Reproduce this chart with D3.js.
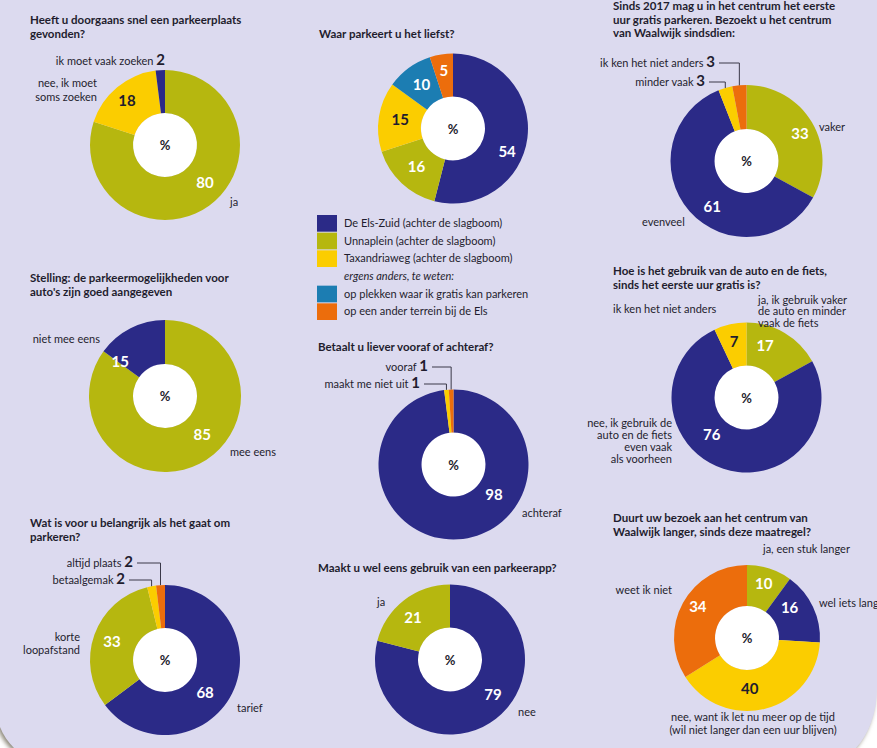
<!DOCTYPE html>
<html>
<head>
<meta charset="utf-8">
<script src="https://cdn.jsdelivr.net/npm/d3@7"></script>
<style>
  body { margin: 0; background: #ffffff; }
  svg { display: block; }
  text { font-family: Lato, "Open Sans", sans-serif; fill: #1f1d2e; }
</style>
</head>
<body>
<svg id="chart" width="877" height="748"></svg>
<script>
// ---- survey results (percentages) ----
const foundCats = ["ja", "nee, ik moet\nsoms zoeken", "ik moet vaak zoeken"];
const foundVals = [80, 18, 2];

const favouriteCats = ["De Els-Zuid (achter de slagboom)", "Unnaplein (achter de slagboom)",
  "Taxandriaweg (achter de slagboom)", "op plekken waar ik gratis kan parkeren",
  "op een ander terrein bij de Els"];
const favouriteVals = [54, 16, 15, 10, 5];

const visitCats = ["vaker", "evenveel", "minder vaak", "ik ken het niet anders"];
const visitVals = [33, 61, 3, 3];

const signageCats = ["mee eens", "niet mee eens"];
const signageVals = [85, 15];

const payCats = ["achteraf", "maakt me niet uit", "vooraf"];
const payVals = [98, 1, 1];

const modeCats = ["ja, ik gebruik vaker\nde auto en minder\nvaak de fiets",
  "nee, ik gebruik de\nauto en de fiets\neven vaak\nals voorheen", "ik ken het niet anders"];
const modeVals = [17, 76, 7];

const priorityCats = ["tarief", "korte\nloopafstand", "betaalgemak", "altijd plaats"];
const priorityVals = [68, 33, 2, 2];

const appCats = ["nee", "ja"];
const appVals = [79, 21];

const durationCats = ["ja, een stuk langer", "wel iets langer",
  "nee, want ik let nu meer op de tijd\n(wil niet langer dan een uur blijven)", "weet ik niet"];
const durationVals = [10, 16, 40, 34];

const legendNote = "ergens anders, te weten:";

// ---- styling ----
const palette = {
  navy: "#2b2a87", olive: "#b6b70f", yellow: "#fbcd00",
  blue: "#1c7db2", orange: "#ec6d0c"
};
const DARK = "#1f1d2e";

const svg = d3.select("#chart");

// page panel with curled bottom corners
const defs = svg.append("defs");
defs.append("filter").attr("id", "soft").attr("x", "-5%").attr("y", "-5%")
  .attr("width", "110%").attr("height", "110%")
  .append("feGaussianBlur").attr("stdDeviation", 2);
const panel = "M0,0 H877 V688 C877,712 869,734 856,748 H14 C8,742 3,735 0,727 Z";
svg.append("path").attr("d", panel).attr("fill", "#8d897c")
  .attr("transform", "translate(-2,2)").attr("filter", "url(#soft)");
svg.append("path").attr("d", panel).attr("fill", "#dcdaef");

const pie = d3.pie().sort(null).value(d => d).startAngle(0).endAngle(2 * Math.PI);
const rad = a => a * Math.PI / 180;

function multiline(sel, str, lh) {
  str.split("\n").forEach((line, i) => {
    sel.append("tspan").attr("x", sel.attr("x")).attr("dy", i === 0 ? 0 : lh).text(line);
  });
}

function title(x, y, lines) {
  const t = svg.append("text").attr("x", x).attr("y", y)
    .attr("font-size", 11.5).attr("font-weight", 700);
  lines.forEach((l, i) => t.append("tspan").attr("x", x).attr("dy", i ? 13.5 : 0).text(l));
}

function donut(cfg) {
  const g = svg.append("g").attr("transform", `translate(${cfg.cx},${cfg.cy})`);
  const r0 = cfg.r0 || 32, r1 = cfg.r1 || 75;
  const arc = d3.arc().innerRadius(r0).outerRadius(r1);
  const arcs = pie(cfg.values);

  g.append("circle").attr("r", r0).attr("fill", "#ffffff");
  g.selectAll("path.slice").data(arcs).join("path")
    .attr("class", "slice").attr("d", arc)
    .attr("fill", (d, i) => palette[cfg.slices[i].color]);
  g.append("text").attr("text-anchor", "middle").attr("dy", 5)
    .attr("font-size", 13).attr("font-weight", 700).text("%");

  arcs.forEach((a, i) => {
    const s = cfg.slices[i];
    const cat = cfg.cats[i];
    const mid = (a.startAngle + a.endAngle) / 2;

    // value inside the ring
    if (s.num) {
      const ang = s.num.a != null ? rad(s.num.a) : mid;
      const rr = s.num.r != null ? s.num.r : (r0 + r1) / 2;
      g.append("text").attr("text-anchor", "middle")
        .attr("x", rr * Math.sin(ang)).attr("y", -rr * Math.cos(ang)).attr("dy", 5)
        .attr("font-size", 15).attr("font-weight", 700)
        .style("fill", s.num.dark ? DARK : "#ffffff")
        .text(a.data);
    }
    // category caption
    if (s.cat) {
      const t = g.append("text").attr("x", s.cat.dx).attr("y", s.cat.dy)
        .attr("text-anchor", s.cat.anchor || "start").attr("font-size", 11);
      multiline(t, cat, s.cat.lh || 12.5);
    }
    // caption plus value with a leader line for thin slices
    if (s.lead) {
      const t = g.append("text").attr("x", s.lead.dx).attr("y", s.lead.dy)
        .attr("text-anchor", "end").attr("font-size", 11);
      t.append("tspan").text(cat + " ");
      t.append("tspan").attr("font-size", 15).attr("font-weight", 700).text(a.data);
      if (s.lead.line !== false) {
        const ex = r1 * Math.sin(mid), ey = -r1 * Math.cos(mid);
        const ly = s.lead.dy - 4;
        g.append("path")
          .attr("d", `M${s.lead.dx + 4},${ly} H${ex} V${ey}`)
          .attr("fill", "none").attr("stroke", "#3a3848").attr("stroke-width", 1);
      }
    }
  });
}

// ---- charts ----
title(30, 24, ["Heeft u doorgaans snel een parkeerplaats", "gevonden?"]);
donut({
  cx: 165, cy: 145, values: foundVals, cats: foundCats,
  slices: [
    { color: "olive", num: { a: 133.5, r: 55 }, cat: { dx: 65, dy: 61 } },
    { color: "yellow", num: { a: 319, r: 58, dark: true }, cat: { dx: -68, dy: -58, anchor: "end", lh: 14 } },
    { color: "navy", lead: { dx: 0, dy: -80, line: false } }
  ]
});

title(319, 38, ["Waar parkeert u het liefst?"]);
donut({
  cx: 453, cy: 128.5, values: favouriteVals, cats: favouriteCats,
  slices: [
    { color: "navy", num: { a: 113.5, r: 59 } },
    { color: "olive", num: {} },
    { color: "yellow", num: { dark: true } },
    { color: "blue", num: {} },
    { color: "orange", num: { r: 58 } }
  ]
});

// legend for the favourite-location chart
const legendColors = ["navy", "olive", "yellow", null, "blue", "orange"];
const legendTexts = [favouriteCats[0], favouriteCats[1], favouriteCats[2], legendNote,
  favouriteCats[3], favouriteCats[4]];
const legendY = d3.scaleBand().domain(d3.range(legendTexts.length)).range([214, 320]);
const lg = svg.append("g");
legendTexts.forEach((txt, i) => {
  const y = legendY(i);
  if (legendColors[i]) {
    lg.append("rect").attr("x", 317).attr("y", y + 1).attr("width", 20)
      .attr("height", legendY.bandwidth() - 1).attr("fill", palette[legendColors[i]]);
  }
  lg.append("text").attr("x", 344).attr("y", y + legendY.bandwidth() / 2 + 4)
    .attr("font-size", 11).attr("font-style", legendColors[i] ? "normal" : "italic")
    .text(txt);
});

title(613, 10, ["Sinds 2017 mag u in het centrum het eerste",
  "uur gratis parkeren. Bezoekt u het centrum", "van Waalwijk sindsdien:"]);
donut({
  cx: 746.5, cy: 161, r1: 76, values: visitVals, cats: visitCats,
  slices: [
    { color: "olive", num: { a: 63, r: 60 }, cat: { dx: 72.5, dy: -30 } },
    { color: "navy", num: { a: 217, r: 57 }, cat: { dx: -104.5, dy: 65 } },
    { color: "yellow", lead: { dx: -41.5, dy: -75 } },
    { color: "orange", lead: { dx: -31.5, dy: -94 } }
  ]
});

title(30, 282, ["Stelling: de parkeermogelijkheden voor", "auto's zijn goed aangegeven"]);
donut({
  cx: 165, cy: 396, r1: 76, values: signageVals, cats: signageCats,
  slices: [
    { color: "olive", num: { a: 136.5, r: 54 }, cat: { dx: 65, dy: 60 } },
    { color: "navy", num: { a: 307, r: 56 }, cat: { dx: -65, dy: -53, anchor: "end" } }
  ]
});

title(318, 351, ["Betaalt u liever vooraf of achteraf?"]);
donut({
  cx: 453.5, cy: 464.5, values: payVals, cats: payCats,
  slices: [
    { color: "navy", num: { a: 127.4, r: 51 }, cat: { dx: 68.5, dy: 52.5 } },
    { color: "yellow", lead: { dx: -33.5, dy: -76.5 } },
    { color: "orange", lead: { dx: -25.5, dy: -93.5 } }
  ]
});

title(613, 275, ["Hoe is het gebruik van de auto en de fiets,", "sinds het eerste uur gratis is?"]);
donut({
  cx: 746.5, cy: 397.5, values: modeVals, cats: modeCats,
  slices: [
    { color: "olive", num: { a: 19.8, r: 55 }, cat: { dx: 11.5, dy: -94, lh: 11.5 } },
    { color: "navy", num: { a: 223, r: 51 }, cat: { dx: -74.5, dy: 29, anchor: "end", lh: 12.3 } },
    { color: "yellow", num: { a: 347.4, r: 57, dark: true }, cat: { dx: -133.5, dy: -85 } }
  ]
});

title(30, 527, ["Wat is voor u belangrijk als het gaat om", "parkeren?"]);
donut({
  cx: 165, cy: 660, values: priorityVals, cats: priorityCats,
  slices: [
    { color: "navy", num: { a: 129.5, r: 52 }, cat: { dx: 72, dy: 52 } },
    { color: "olive", num: { a: 288.8, r: 56 }, cat: { dx: -85, dy: -19, anchor: "end", lh: 13 } },
    { color: "yellow", lead: { dx: -40, dy: -76 } },
    { color: "orange", lead: { dx: -32, dy: -93 } }
  ]
});

title(318, 572, ["Maakt u wel eens gebruik van een parkeerapp?"]);
donut({
  cx: 450, cy: 659.5, values: appVals, cats: appCats,
  slices: [
    { color: "navy", num: { a: 130, r: 56 }, cat: { dx: 68, dy: 56.5 } },
    { color: "olive", num: { a: 318.6, r: 56 }, cat: { dx: -73, dy: -53.5 } }
  ]
});

title(613, 522, ["Duurt uw bezoek aan het centrum van", "Waalwijk langer, sinds deze maatregel?"]);
donut({
  cx: 747, cy: 638, r1: 73, values: durationVals, cats: durationCats,
  slices: [
    { color: "olive", num: { a: 17, r: 57 }, cat: { dx: 16, dy: -85 } },
    { color: "navy", num: { a: 55, r: 52 }, cat: { dx: 72, dy: -31 } },
    { color: "yellow", num: { a: 177, r: 51, dark: true }, cat: { dx: 6, dy: 83, anchor: "middle", lh: 13 } },
    { color: "orange", num: { a: 302, r: 58 }, cat: { dx: -75, dy: -44, anchor: "end" } }
  ]
});
</script>
</body>
</html>
